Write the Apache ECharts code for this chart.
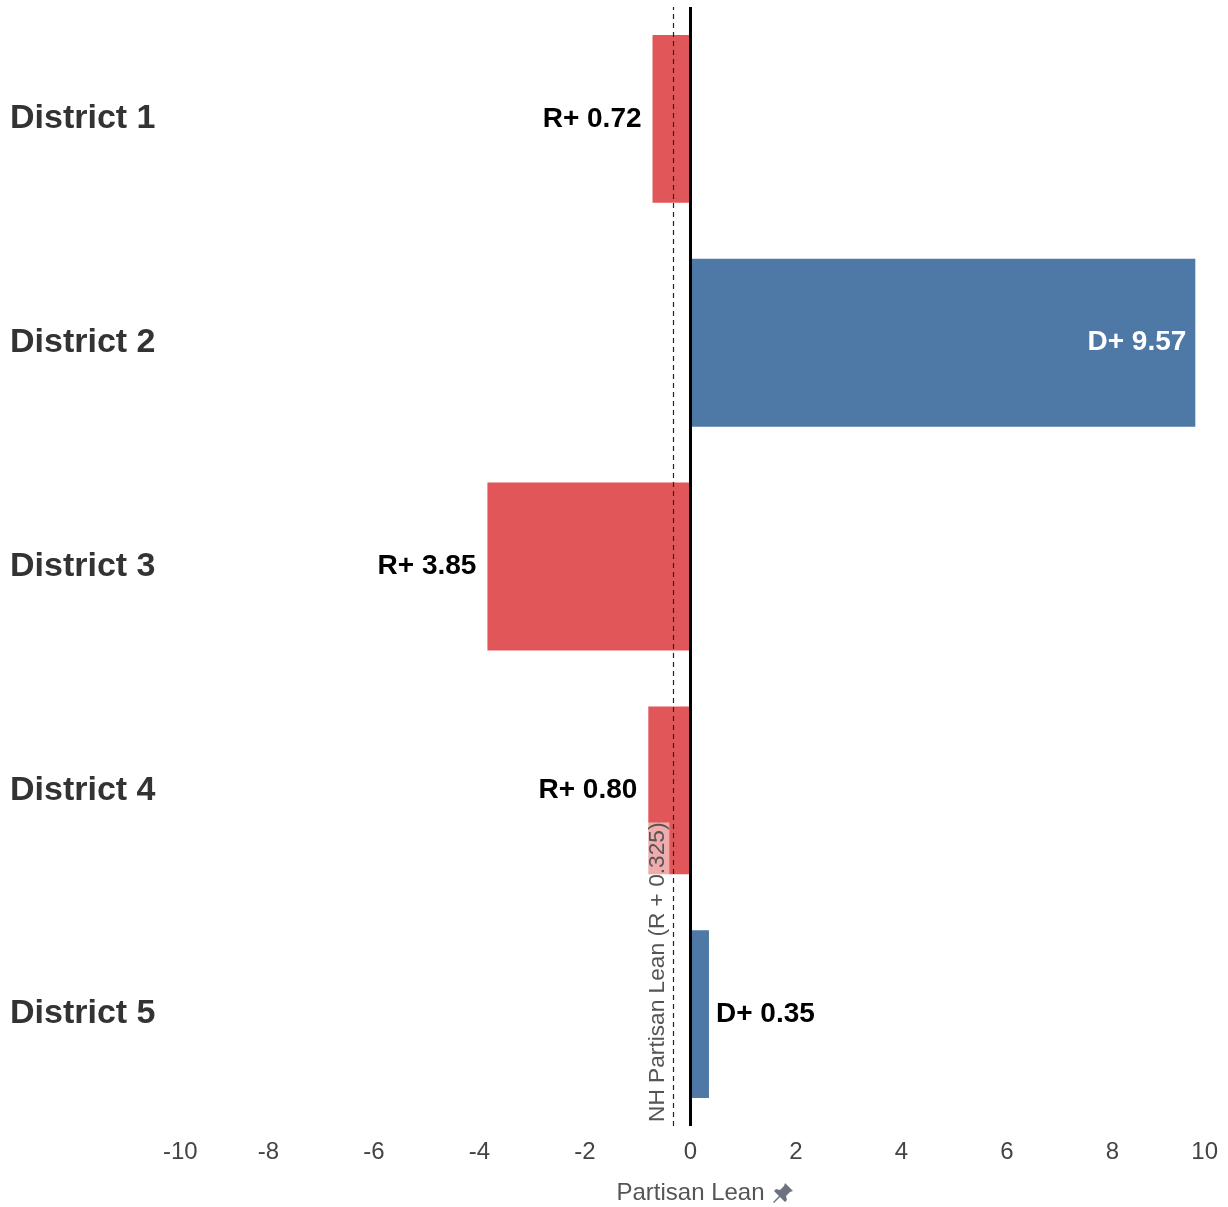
<!DOCTYPE html>
<html>
<head>
<meta charset="utf-8">
<script src="https://cdn.jsdelivr.net/npm/echarts@6/dist/echarts.min.js"></script>
<style>
html,body{margin:0;padding:0;background:#fff;}
#chart{width:1228px;height:1207px;}
</style>
</head>
<body>
<div id="chart"></div>
<script>
var districts = ['District 1', 'District 2', 'District 3', 'District 4', 'District 5'];
var leanValues = [-0.72, 9.57, -3.85, -0.80, 0.35];
var nhLean = -0.325;
var nhLabel = 'NH Partisan Lean (R + 0.325)';
var xTicks = { min: -10, max: 10, step: 2 };

var RED = '#E15759', BLUE = '#4E79A7';

function leanText(v){
	return (v < 0 ? 'R+ ' : 'D+ ') + Math.abs(v).toFixed(2);
}

var barData = [];
for (var i = 0; i < leanValues.length; i++) {
	var v = leanValues[i];
	var lbl = {show: true, formatter: leanText(v), fontFamily: 'Liberation Sans', fontWeight: 'bold', fontSize: 28, color: '#000'};
	if (v < 0) {
		lbl.position = 'left';
		lbl.distance = 11;
	} else if (v > 5) {
		lbl.position = 'insideRight';
		lbl.distance = 9;
		lbl.color = '#fff';
	} else {
		lbl.position = 'right';
		lbl.distance = 7;
	}
	barData.push({value: v, itemStyle: {color: v < 0 ? RED : BLUE}, label: lbl});
}

var chart = echarts.init(document.getElementById('chart'));
var option = {
	animation: false,
	grid: {left: 163, right: 10, top: 7, bottom: 81, outerBoundsMode: 'none', containLabel: false},
	xAxis: {
		type: 'value',
		min: xTicks.min,
		max: xTicks.max,
		interval: xTicks.step,
		name: 'Partisan Lean',
		nameLocation: 'middle',
		nameGap: 55,
		nameTextStyle: {fontFamily: 'Liberation Sans', fontSize: 24, color: '#555'},
		axisLine: {show: false},
		axisTick: {show: false},
		splitLine: {show: false},
		axisLabel: {
			fontFamily: 'Liberation Sans',
			fontSize: 24,
			color: '#444',
			margin: 14,
			alignMinLabel: 'left',
			alignMaxLabel: 'right'
		}
	},
	yAxis: [{
		type: 'category',
		data: districts,
		inverse: true,
		axisLine: {show: false},
		axisTick: {show: false},
		splitLine: {show: false},
		axisLabel: {
			align: 'left',
			margin: 153,
			fontFamily: 'Liberation Sans',
			fontWeight: 'bold',
			fontSize: 34,
			color: '#333'
		}
	}, {
		// hidden 0..1 axis so the reference line can run bottom -> top
		type: 'value',
		min: 0,
		max: 1,
		show: false
	}],
	graphic: [{
		type: 'group',
		left: 773,
		top: 1183,
		children: [{
			type: 'polygon',
			shape: {
				points: [[12,0],[20,8],[17,9],[13,13],[14,17],[12,19],[7,14],[1,20],[0,19],[6,13],[1,8],[3,6],[7,7],[11,3]]
			},
			style: {fill: '#6b7380'}
		}]
	}],
	series: [{
		type: 'bar',
		data: barData,
		barCategoryGap: '25%',
		markLine: {
			silent: true,
			symbol: ['none', 'none'],
			z: 5,
			data: [{
				xAxis: 0,
				lineStyle: {type: 'solid', color: '#000', width: 3},
				label: {show: false}
			}]
		}
	}, {
		type: 'line',
		yAxisIndex: 1,
		data: [],
		markLine: {
			silent: true,
			symbol: ['none', 'none'],
			z: 4,
			lineStyle: {type: [5, 4], color: '#222', width: 1.2},
			label: {
				show: true,
				formatter: nhLabel,
				position: 'insideStartTop',
				distance: 4,
				fontFamily: 'Liberation Sans',
				fontSize: 22.7,
				color: '#555',
				backgroundColor: 'rgba(255,255,255,0.5)'
			},
			data: [[{coord: [nhLean, 0]}, {coord: [nhLean, 1]}]]
		}
	}]
};
chart.setOption(option);
</script>
</body>
</html>
